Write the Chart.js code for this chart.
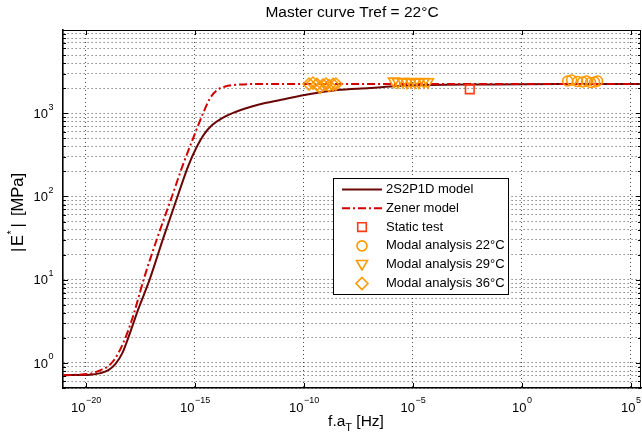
<!DOCTYPE html>
<html><head><meta charset="utf-8">
<script src="https://cdn.jsdelivr.net/npm/chart.js@4.4.0/dist/chart.umd.min.js"></script>
<style>html,body{margin:0;padding:0;background:#fff;}#wrap{width:642px;height:434px;position:relative;}</style>
</head><body><div id="wrap"><canvas id="c" width="642" height="434"></canvas></div>
<script>
// ---- data ----
const model2S2P1D_x = [9.31e-22,1.61e-20,4.61e-20,1.07e-19,2.24e-19,4.70e-19,9.14e-19,2.54e-18,8.38e-18,3.55e-17,1.60e-16,4.95e-16,1.15e-15,2.68e-15,6.24e-15,1.79e-14,5.71e-14,3.44e-13,1.67e-12,8.13e-12,1.92e-10,3.32e-9,1.08e-7,1.86e-6,6.05e-5,1.18e-2,54.6,2.8e5];
const model2S2P1D_y = [0.713,0.723,0.754,0.819,0.967,1.31,2.06,4.43,10.0,31.6,100,232,382,562,721,875,1010,1189,1327,1443,1703,1901,2010,2124,2183,2214,2244,2244];
const zener_x = [9.31e-22,1.61e-20,4.61e-20,1.07e-19,2.24e-19,4.70e-19,8.85e-19,1.67e-18,4.45e-18,1.88e-17,8.89e-17,2.92e-16,8.39e-16,2.41e-15,5.05e-15,1.06e-14,2.45e-14,1.19e-13,9.84e-13,2.8e5];
const zener_y = [0.713,0.744,0.819,0.915,1.14,1.64,2.48,4.08,10.0,31.6,100,245,503,1005,1524,1901,2094,2214,2244,2244];
const static_x = [4.11e-3];
const static_y = [1937];
const modal22_x = [127,193,364,617,940,1435,2190,3004];
const modal22_y = [2440,2506,2404,2372,2439,2339,2372,2440];
const modal29_x = [1.36e-6,2.07e-6,3.51e-6,5.35e-6,8.15e-6,1.24e-5,1.90e-5,3.21e-5,4.90e-5];
const modal29_y = [2420,2380,2400,2350,2390,2370,2360,2400,2380];
const modal36_x = [1.73e-10,2.64e-10,4.02e-10,5.52e-10,7.58e-10,1.04e-9,1.43e-9,2.17e-9,2.98e-9];
const modal36_y = [2244,2306,2214,2050,2183,2244,2153,2214,2244];
const xTickExponents = [-20,-15,-10,-5,0,5];
const yTickExponents = [0,1,2,3];
const seriesLabels = ['2S2P1D model','Zener model','Static test','Modal analysis 22°C','Modal analysis 29°C','Modal analysis 36°C'];
const titleText = 'Master curve Tref = 22°C';

const pts = (xs, ys) => xs.map((v, i) => ({x: v, y: ys[i]}));
const C_2S = '#6a0606', C_Z = '#d00000', C_ST = '#ff3c14', C_OR = '#ff9900';
const FONT = '"Liberation Sans", Arial, sans-serif';

function yTickValues() {
  const out = [];
  for (let e = -1; e <= 3; e++) for (let m = 1; m <= 9; m++) {
    const v = m * Math.pow(10, e);
    if (v >= 0.5 && v <= 1e4) out.push(v);
  }
  out.push(1e4);
  return out;
}

function drawMarker(ctx, type, x, y, color) {
  ctx.save();
  ctx.strokeStyle = color; ctx.lineWidth = 1.6;
  ctx.beginPath();
  if (type === 'rect') { ctx.rect(x - 4.3, y - 4.3, 8.6, 8.6); }
  else if (type === 'circle') { ctx.arc(x, y, 5, 0, Math.PI * 2); }
  else if (type === 'tri') { const r = 6.3; ctx.moveTo(x, y + r); ctx.lineTo(x - r * 0.866, y - r / 2); ctx.lineTo(x + r * 0.866, y - r / 2); ctx.closePath(); }
  else if (type === 'dia') { const r = 6; ctx.moveTo(x, y - r); ctx.lineTo(x + r, y); ctx.lineTo(x, y + r); ctx.lineTo(x - r, y); ctx.closePath(); }
  ctx.stroke();
  ctx.restore();
}

function powLabel(ctx, exp, x, y, align) {
  const base = '10', sup = (exp < 0 ? '\u2212' : '') + Math.abs(exp);
  ctx.font = '13px ' + FONT;
  const wb = ctx.measureText(base).width;
  ctx.font = '9px ' + FONT;
  const ws = ctx.measureText(sup).width;
  let x0;
  if (align === 'center') x0 = x - (wb + ws) / 2; else x0 = x - (wb + ws);
  ctx.textBaseline = 'middle'; ctx.textAlign = 'left';
  ctx.font = '13px ' + FONT; ctx.fillText(base, x0, y);
  ctx.font = '9px ' + FONT; ctx.fillText(sup, x0 + wb + 0.5, y - 7);
}

const decor = {
  id: 'decor',
  afterDraw(chart) {
    const {ctx, chartArea: a, scales: {x, y}} = chart;
    ctx.save();
    ctx.fillStyle = '#000'; ctx.strokeStyle = '#000';
    // frame top/right
    ctx.lineWidth = 1;
    ctx.beginPath();
    ctx.moveTo(a.left, a.top + 0.5); ctx.lineTo(a.right, a.top + 0.5);
    ctx.moveTo(a.right - 0.5, a.top); ctx.lineTo(a.right - 0.5, a.bottom);
    ctx.stroke();
    // inward ticks
    ctx.beginPath();
    yTickValues().forEach(v => {
      const p = Math.round(y.getPixelForValue(v)) + 0.5;
      const major = Math.abs(Math.log10(v) - Math.round(Math.log10(v))) < 1e-9;
      const len = major ? 5 : 3;
      ctx.moveTo(a.left, p); ctx.lineTo(a.left + len, p);
      ctx.moveTo(a.right, p); ctx.lineTo(a.right - len, p);
    });
    xTickExponents.forEach(e => {
      const p = Math.round(x.getPixelForValue(Math.pow(10, e))) + 0.5;
      ctx.moveTo(p, a.bottom); ctx.lineTo(p, a.bottom - 5);
      ctx.moveTo(p, a.top); ctx.lineTo(p, a.top + 5);
    });
    ctx.stroke();
    // tick labels
    xTickExponents.forEach(e => powLabel(ctx, e, x.getPixelForValue(Math.pow(10, e)), a.bottom + 20, 'center'));
    yTickExponents.forEach(e => powLabel(ctx, e, a.left - 10, y.getPixelForValue(Math.pow(10, e)) + 1, 'right'));
    // title
    ctx.textAlign = 'center'; ctx.textBaseline = 'middle';
    ctx.font = '15.5px ' + FONT;
    ctx.fillText(titleText, (a.left + a.right) / 2, 12.5);
    // x label with subscript
    ctx.font = '15.5px ' + FONT;
    const p1 = 'f.a', p3 = ' [Hz]';
    const w1 = ctx.measureText(p1).width, w3 = ctx.measureText(p3).width;
    ctx.font = '11px ' + FONT; const w2 = ctx.measureText('T').width;
    let xs = (a.left + a.right) / 2 - (w1 + w2 + w3) / 2 + 4;
    ctx.textAlign = 'left';
    ctx.font = '15.5px ' + FONT; ctx.fillText(p1, xs, 422);
    ctx.font = '11px ' + FONT; ctx.fillText('T', xs + w1, 428);
    ctx.font = '15.5px ' + FONT; ctx.fillText(p3, xs + w1 + w2, 422);
    // y label: |E*| [MPa], drawn bottom-to-top
    ctx.save();
    ctx.translate(18, 252);
    ctx.rotate(-Math.PI / 2);
    ctx.textAlign = 'left'; ctx.textBaseline = 'middle';
    ctx.font = '16.5px ' + FONT;
    ctx.fillText('|', 0, 0);
    ctx.fillText('E', 6, 0);
    ctx.font = '11px ' + FONT;
    ctx.fillText('*', 17.5, -6);
    ctx.font = '16.5px ' + FONT;
    ctx.fillText('|', 24.5, 0);
    ctx.fillText('[MPa]', 36, 0);
    ctx.restore();
    // legend
    const L = {x: 333.5, y: 178.5, w: 175, h: 116};
    ctx.fillStyle = '#fff'; ctx.fillRect(L.x, L.y, L.w, L.h);
    ctx.strokeStyle = '#000'; ctx.lineWidth = 1; ctx.strokeRect(L.x, L.y, L.w, L.h);
    const rowY = i => 189.5 + i * 18.8;
    ctx.lineWidth = 2;
    ctx.strokeStyle = C_2S; ctx.beginPath(); ctx.moveTo(342, rowY(0)); ctx.lineTo(382, rowY(0)); ctx.stroke();
    ctx.strokeStyle = C_Z; ctx.setLineDash([8, 3, 2, 3]); ctx.beginPath(); ctx.moveTo(342, rowY(1)); ctx.lineTo(382, rowY(1)); ctx.stroke();
    ctx.setLineDash([]);
    drawMarker(ctx, 'rect', 362, rowY(2), C_ST);
    drawMarker(ctx, 'circle', 362, rowY(3), C_OR);
    drawMarker(ctx, 'tri', 362, rowY(4) - 1, C_OR);
    drawMarker(ctx, 'dia', 362, rowY(5), C_OR);
    ctx.fillStyle = '#000'; ctx.font = '13px ' + FONT; ctx.textAlign = 'left'; ctx.textBaseline = 'middle';
    seriesLabels.forEach((t, i) => ctx.fillText(t, 386, rowY(i)));
    ctx.restore();
  }
};

const markerBase = {showLine: false, pointBackgroundColor: 'rgba(0,0,0,0)', pointBorderWidth: 1.6, order: 0};
new Chart(document.getElementById('c'), {
  type: 'line',
  data: {
    datasets: [
      {label: seriesLabels[0], data: pts(model2S2P1D_x, model2S2P1D_y), borderColor: C_2S, borderWidth: 2, pointRadius: 0, cubicInterpolationMode: 'monotone', order: 2},
      {label: seriesLabels[1], data: pts(zener_x, zener_y), borderColor: C_Z, borderWidth: 2, borderDash: [8, 3, 2, 3], pointRadius: 0, cubicInterpolationMode: 'monotone', order: 1},
      Object.assign({label: seriesLabels[2], data: pts(static_x, static_y), pointStyle: 'rect', pointRadius: 6.1, borderColor: C_ST, pointBorderColor: C_ST}, markerBase),
      Object.assign({label: seriesLabels[3], data: pts(modal22_x, modal22_y), pointStyle: 'circle', pointRadius: 5, borderColor: C_OR, pointBorderColor: C_OR}, markerBase),
      Object.assign({label: seriesLabels[4], data: pts(modal29_x, modal29_y), pointStyle: 'triangle', pointRotation: 180, pointRadius: 6.3, borderColor: C_OR, pointBorderColor: C_OR}, markerBase),
      Object.assign({label: seriesLabels[5], data: pts(modal36_x, modal36_y), pointStyle: 'rectRot', pointRadius: 6, borderColor: C_OR, pointBorderColor: C_OR}, markerBase)
    ]
  },
  options: {
    responsive: false, devicePixelRatio: 1, animation: false, events: [],
    layout: {autoPadding: false, padding: {top: 30, right: 1, left: 0, bottom: 0}},
    plugins: {legend: {display: false}, title: {display: false}, tooltip: {enabled: false}},
    scales: {
      x: {
        type: 'logarithmic', min: Math.pow(10, -21.05), max: Math.pow(10, 5.47),
        afterBuildTicks: s => { s.ticks = xTickExponents.map(e => ({value: Math.pow(10, e), major: true})); },
        afterFit: s => { s.height = 46; },
        ticks: {display: false},
        grid: {drawTicks: false, color: 'rgba(0,0,0,0.7)', lineWidth: 1},
        border: {display: true, color: '#000', width: 1.6, dash: [1, 3]}
      },
      y: {
        type: 'logarithmic', min: 0.5, max: 1e4,
        afterBuildTicks: s => { s.ticks = yTickValues().map(v => ({value: v})); },
        afterFit: s => { s.width = 63; },
        ticks: {display: false},
        grid: {drawTicks: false, color: 'rgba(0,0,0,0.7)', lineWidth: 1},
        border: {display: true, color: '#000', width: 1.6, dash: [1, 3]}
      }
    }
  },
  plugins: [decor]
});
</script></body></html>
